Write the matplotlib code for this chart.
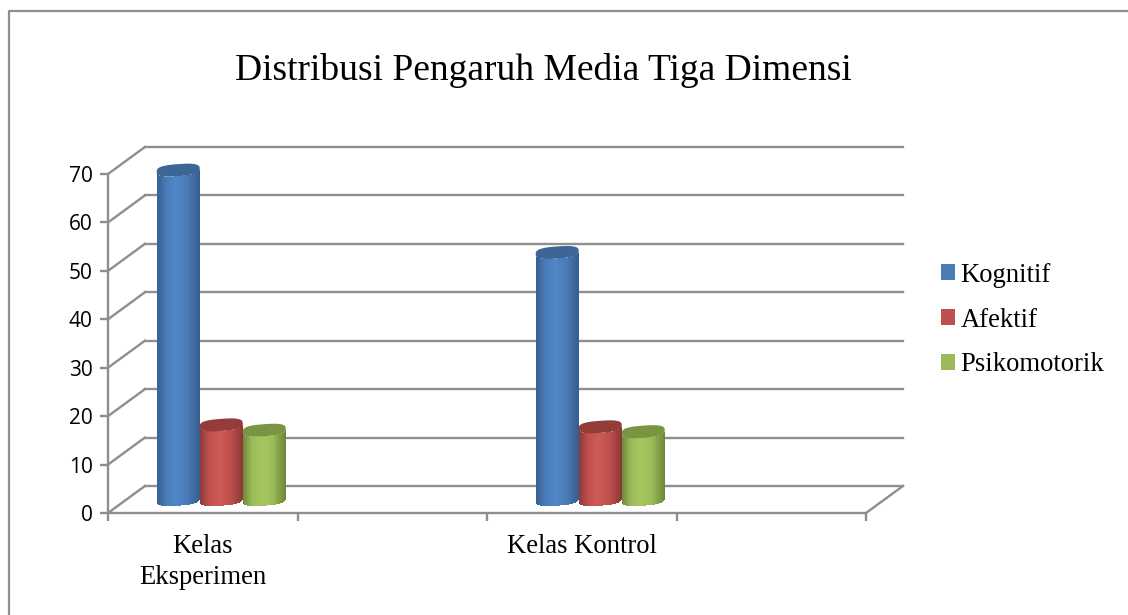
import numpy as np
import matplotlib
matplotlib.use('Agg')
import matplotlib.pyplot as plt
from matplotlib.colors import LinearSegmentedColormap
from matplotlib.lines import Line2D
from matplotlib.patches import Patch, Polygon

# Data
categories = ['Kelas\nEksperimen', '', 'Kelas Kontrol', '']
series_names = ['Kognitif', 'Afektif', 'Psikomotorik']
kognitif = [68, None, 51, None]
afektif = [15.4, None, 15, None]
psikomotorik = [14.3, None, 14, None]
y_ticks = [0, 10, 20, 30, 40, 50, 60, 70]

# Colours: edge, body, highlight, top face
colors = [
	('#375d8e', '#4a7cb8', '#5086c8', '#3d6696'),
	('#8b3836', '#c0504d', '#cd5a57', '#933c3a'),
	('#6c8739', '#9bbb59', '#a6c75e', '#7a9542'),
]
line_color = '#8e8e8e'

# Fake 3D depth and bar size in data units
depth_x = 0.195
depth_y = 5.58
bar_w = 0.227
cap_h = 1.25
cap_tilt = 0.32

W, H = 1128, 615
fig = plt.figure(figsize=(W/100, H/100), dpi=100)
ax = fig.add_axes([108/W, (H-513)/H, 758/W, 339/H])
ax.set_xlim(0, 4)
ax.set_ylim(0, 70)
ax.patch.set_alpha(0)

# Back wall, side wall and floor lines
for v in y_ticks:
	ax.plot([depth_x, 4+depth_x], [v+depth_y, v+depth_y], color=line_color, lw=1.7, clip_on=False, zorder=1)
	ax.plot([0, depth_x], [v, v+depth_y], color=line_color, lw=1.7, clip_on=False, zorder=1)
ax.plot([4, 4+depth_x], [0, depth_y], color=line_color, lw=1.7, clip_on=False, zorder=1)


def cap_points(cx, v, t):
	# Squared-off ellipse, tilted a little upward to the right
	c = np.sign(np.cos(t))*np.abs(np.cos(t))**0.7
	s = np.sign(np.sin(t))*np.abs(np.sin(t))**0.7
	return np.column_stack([cx+bar_w/2*c, v+cap_h*s+cap_tilt*c])


def draw_cylinder(cx, value, cols, z):
	base = depth_y/2
	top = value+base
	cmap = LinearSegmentedColormap.from_list('cyl', [(0, cols[0]), (0.22, cols[1]), (0.45, cols[2]), (0.7, cols[1]), (1, cols[0])])
	# Body is a mesh between the lower halves of the two end caps
	t = np.linspace(np.pi, 2*np.pi, 61)
	low = cap_points(cx, base, t)
	high = cap_points(cx, top, t)
	X = np.vstack([low[:, 0], high[:, 0]])
	Y = np.vstack([low[:, 1], high[:, 1]])
	shade = ((low[:-1, 0]+low[1:, 0])/2-(cx-bar_w/2))/bar_w
	mesh = ax.pcolormesh(X, Y, shade[None, :], cmap=cmap, vmin=0, vmax=1, shading='flat', zorder=z, antialiased=False)
	mesh.set_clip_on(False)
	ax.add_patch(Polygon(cap_points(cx, top, np.linspace(0, 2*np.pi, 80)), fc=cols[3], ec='none', clip_on=False, zorder=z+0.1))


all_series = [kognitif, afektif, psikomotorik]
for i in range(len(categories)):
	for j, vals in enumerate(all_series):
		if vals[i] is None:
			continue
		cx = i+0.5+depth_x/2+(j-1)*bar_w
		draw_cylinder(cx, vals[i], colors[j], 3+j)
ax.set_xlim(0, 4)
ax.set_ylim(0, 70)

# Axes
for s in ['top', 'right']:
	ax.spines[s].set_visible(False)
for s in ['left', 'bottom']:
	ax.spines[s].set_color(line_color)
	ax.spines[s].set_linewidth(1.7)
ax.set_yticks(y_ticks)
ax.set_xticks([0, 1, 2, 3, 4])
ax.set_xticklabels([])
ax.set_xticks([0.5, 1.5, 2.5, 3.5], labels=categories, minor=True)
ax.tick_params(axis='y', length=6, width=1.7, color=line_color, labelsize=15, pad=5, labelcolor='#000000')
ax.tick_params(axis='x', which='major', length=6, width=1.7, color=line_color)
ax.tick_params(axis='x', which='minor', length=0, pad=15, labelsize=19.2, labelcolor='#000000')
for lbl in ax.get_yticklabels():
	lbl.set_family('Open Sans')
for lbl in ax.get_xticklabels(minor=True):
	lbl.set_family('Liberation Serif')
	lbl.set_linespacing(1.3)

fig.text(543/W, 1-71/H, 'Distribusi Pengaruh Media Tiga Dimensi', family='Liberation Serif', fontsize=27, color='#000000', ha='center', va='center')

handles = [Patch(fc=c[1], ec='none', label=n) for c, n in zip(colors, series_names)]
fig.legend(handles=handles, loc='center left', bbox_to_anchor=(941/W, 1-320/H), frameon=False,
	prop={'family': 'Liberation Serif', 'size': 19.2}, labelcolor='#000000', labelspacing=0.745,
	handlelength=0.52, handleheight=0.52, handletextpad=0.22, borderpad=0, borderaxespad=0)

# Outer chart frame, runs off the right and bottom of the picture
fig.add_artist(Line2D([8.5/W, 8.5/W, 1], [0, 1-11/H, 1-11/H], color=line_color, lw=1.6))

fig.savefig('out.png', dpi=100)
